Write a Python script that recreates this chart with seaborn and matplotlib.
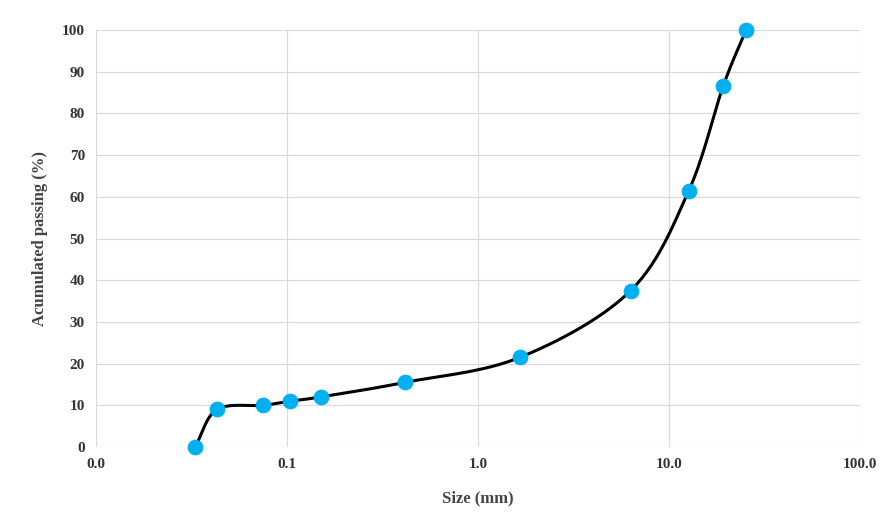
import numpy as np
import matplotlib
matplotlib.use("Agg")
import matplotlib.pyplot as plt
import seaborn as sns
import pandas as pd

size_mm = [0.033, 0.043, 0.075, 0.104, 0.15, 0.415, 1.66, 6.3, 12.7, 19.2, 25.3]
passing = [0, 9, 10, 11, 12, 15.5, 21.5, 37.5, 61.5, 86.5, 100]
x_ticks = [0.01, 0.1, 1, 10, 100]
x_labels = ["0.0", "0.1", "1.0", "10.0", "100.0"]

df = pd.DataFrame({"size": size_mm, "passing": passing})

sns.set_style("white")
plt.rcParams["font.family"] = ["Liberation Serif", "DejaVu Serif"]

fig = plt.figure(figsize=(8.85, 5.16), dpi=100)
ax = fig.add_axes([96 / 885, 1 - 447 / 516, (860 - 96) / 885, (447 - 30) / 516])

# smooth line (Catmull-Rom in log-x space, like Excel's smoothed line)
lx = np.log10(df["size"].values)
ly = df["passing"].values
px = np.concatenate([[2 * lx[0] - lx[1]], lx, [2 * lx[-1] - lx[-2]]])
py = np.concatenate([[2 * ly[0] - ly[1]], ly, [2 * ly[-1] - ly[-2]]])
t = np.linspace(0, 1, 30)
sx, sy = [], []
for i in range(1, len(px) - 2):
    for arr, out in ((px, sx), (py, sy)):
        p0, p1, p2, p3 = arr[i - 1:i + 3]
        m1 = (p2 - p0) / 2
        m2 = (p3 - p1) / 2
        h00 = 2 * t**3 - 3 * t**2 + 1
        h10 = t**3 - 2 * t**2 + t
        h01 = -2 * t**3 + 3 * t**2
        h11 = t**3 - t**2
        out.extend(h00 * p1 + h10 * m1 + h01 * p2 + h11 * m2)
ax.plot(10 ** np.array(sx), sy, color="black", lw=2.2, zorder=2)

sns.scatterplot(data=df, x="size", y="passing", ax=ax, color="#00b0f0",
                s=110, edgecolor="#00b0f0", zorder=3)

ax.set_xscale("log")
ax.set_xlim(0.01, 100)
ax.set_ylim(0, 100)
ax.set_xticks(x_ticks)
ax.set_xticklabels(x_labels)
ax.xaxis.set_minor_locator(matplotlib.ticker.NullLocator())
ax.set_yticks(range(0, 101, 10))
ax.grid(True, color="#d9d9d9", lw=0.8)
for s in ax.spines.values():
    s.set_visible(False)
ax.tick_params(length=0, labelsize=11, pad=8)
for lab in ax.get_xticklabels() + ax.get_yticklabels():
    lab.set_fontweight("bold")
    lab.set_color("#333333")
ax.set_xlabel("Size (mm)", fontsize=12, fontweight="bold", color="#444444", labelpad=14)
ax.set_ylabel("Acumulated passing (%)", fontsize=12, fontweight="bold", color="#444444", labelpad=10)
for c in ax.collections + ax.lines:
    c.set_clip_on(False)

fig.savefig("out.png", dpi=100)
